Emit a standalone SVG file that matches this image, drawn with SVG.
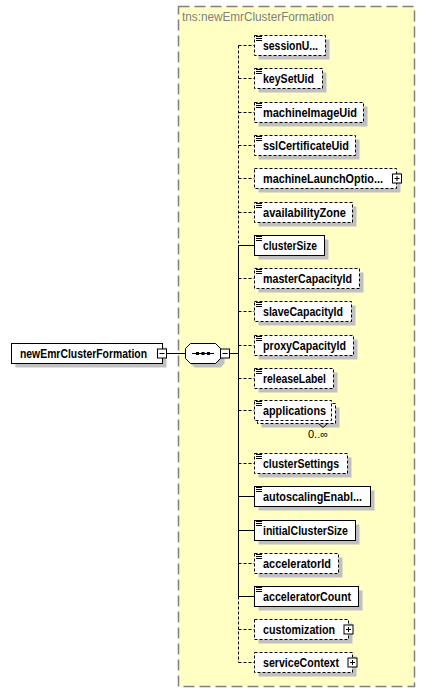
<svg xmlns="http://www.w3.org/2000/svg" width="425" height="693" viewBox="0 0 425 693">
<style>
.bg{fill:#ffffff}
.frame{fill:#ffffc4;stroke:#808080;stroke-width:1.5;stroke-dasharray:11,5}
.title{font-family:"Liberation Sans",Arial,sans-serif;font-size:12px;fill:#808080}
.sh{fill:#c0c0c0;stroke:none}
.box{fill:#ffffff;stroke:#000;stroke-width:1}
.opt{fill:#ffffff;stroke:#000;stroke-width:1;stroke-dasharray:3,2}
.lbl{font-family:"Liberation Sans",Arial,sans-serif;font-size:12px;font-weight:bold;fill:#000}
.occ{font-family:"Liberation Sans",Arial,sans-serif;font-size:11px;fill:#000}
.ln{stroke:#000;stroke-width:1;fill:none}
.dl{stroke:#000;stroke-width:1;fill:none;stroke-dasharray:3,2}
.ic{stroke:#000;stroke-width:1;fill:none}
.btn{fill:#ffffff;stroke:#000;stroke-width:1}
</style>
<defs>
<g id="doc"><path class="ic" d="M256 0.5h6M256 2.5h6M256 4.5h6"/></g>
<g id="plus"><rect class="btn" x="-4.5" y="-4.5" width="9" height="9"/><path class="ic" d="M-2.5 0h5M0 -2.5v5"/></g>
<g id="minus"><rect class="btn" x="-4.5" y="-4.5" width="9" height="9"/><path class="ic" d="M-2.5 0h5"/></g>
</defs>
<rect class="bg" x="0" y="0" width="425" height="693"/>
<g id="type">
<rect class="frame" x="178.5" y="6.5" width="236" height="680"/>
<text class="title" x="182" y="21" textLength="152" lengthAdjust="spacingAndGlyphs">tns:newEmrClusterFormation</text>
</g>
<g id="connectors">
<path class="ln" d="M167 353.5H185.5"/>
<path class="ln" d="M229.5 353.5H238.5"/>
<path class="dl" d="M238.5 45.5V245.5"/>
<path class="ln" d="M238.5 245.5V596.5"/>
<path class="dl" d="M238.5 596.5V662.5"/>
<path class="dl" d="M238.5 45.5H254.5M238.5 78.5H254.5M238.5 112.5H254.5M238.5 145.5H254.5M238.5 178.5H254.5M238.5 212.5H254.5M238.5 278.5H254.5M238.5 311.5H254.5M238.5 345.5H254.5M238.5 378.5H254.5M238.5 410.5H254.5M238.5 463.5H254.5M238.5 563.5H254.5M238.5 629.5H254.5M238.5 662.5H254.5"/>
<path class="ln" d="M238.5 245.5H254.5M238.5 496.5H254.5M238.5 530.5H254.5M238.5 596.5H254.5"/>
</g>
<g id="root">
<rect class="sh" x="15.5" y="347.5" width="151" height="20"/>
<rect class="box" x="11.5" y="343.5" width="151" height="20"/>
<text class="lbl" x="20" y="358" textLength="127" lengthAdjust="spacingAndGlyphs">newEmrClusterFormation</text>
<use href="#minus" x="162" y="353.5"/>
</g>
<g id="sequence">
<polygon class="sh" points="194.5,347.5 220.5,347.5 224.5,351.5 224.5,363.5 220.5,367.5 194.5,367.5 190.5,363.5 190.5,351.5"/>
<polygon class="box" points="190.5,343.5 215.5,343.5 220.5,348.5 220.5,358.5 215.5,363.5 190.5,363.5 185.5,358.5 185.5,348.5"/>
<path class="ln" d="M192 353.5H214"/>
<rect x="196" y="352" width="3" height="3" fill="#000"/>
<rect x="201.5" y="352" width="3" height="3" fill="#000"/>
<rect x="207" y="352" width="3" height="3" fill="#000"/>
<use href="#minus" x="225" y="353.5"/>
</g>
<g id="sessionUid">
<rect class="sh" x="258.5" y="39.5" width="71" height="20"/>
<rect class="opt" x="254.5" y="35.5" width="71" height="20"/>
<use href="#doc" y="36"/>
<text class="lbl" x="263" y="50" textLength="55" lengthAdjust="spacingAndGlyphs">sessionU...</text>
</g>
<g id="keySetUid">
<rect class="sh" x="258.5" y="72.5" width="68" height="20"/>
<rect class="opt" x="254.5" y="68.5" width="68" height="20"/>
<use href="#doc" y="69"/>
<text class="lbl" x="263" y="83" textLength="51" lengthAdjust="spacingAndGlyphs">keySetUid</text>
</g>
<g id="machineImageUid">
<rect class="sh" x="258.5" y="106.5" width="109" height="20"/>
<rect class="opt" x="254.5" y="102.5" width="109" height="20"/>
<use href="#doc" y="103"/>
<text class="lbl" x="263" y="117" textLength="94" lengthAdjust="spacingAndGlyphs">machineImageUid</text>
</g>
<g id="sslCertificateUid">
<rect class="sh" x="258.5" y="139.5" width="101" height="20"/>
<rect class="opt" x="254.5" y="135.5" width="101" height="20"/>
<use href="#doc" y="136"/>
<text class="lbl" x="263" y="150" textLength="86" lengthAdjust="spacingAndGlyphs">sslCertificateUid</text>
</g>
<g id="machineLaunchOptions">
<rect class="sh" x="258.5" y="172.5" width="142" height="20"/>
<rect class="opt" x="254.5" y="168.5" width="142" height="20"/>
<text class="lbl" x="263" y="183" textLength="120" lengthAdjust="spacingAndGlyphs">machineLaunchOptio...</text>
<use href="#plus" x="397" y="178.5"/>
</g>
<g id="availabilityZone">
<rect class="sh" x="258.5" y="206.5" width="98" height="20"/>
<rect class="opt" x="254.5" y="202.5" width="98" height="20"/>
<use href="#doc" y="203"/>
<text class="lbl" x="263" y="217" textLength="83" lengthAdjust="spacingAndGlyphs">availabilityZone</text>
</g>
<g id="clusterSize">
<rect class="sh" x="258.5" y="239.5" width="70" height="20"/>
<rect class="box" x="254.5" y="235.5" width="70" height="20"/>
<use href="#doc" y="236"/>
<text class="lbl" x="263" y="250" textLength="54" lengthAdjust="spacingAndGlyphs">clusterSize</text>
</g>
<g id="masterCapacityId">
<rect class="sh" x="258.5" y="272.5" width="105" height="20"/>
<rect class="opt" x="254.5" y="268.5" width="105" height="20"/>
<use href="#doc" y="269"/>
<text class="lbl" x="263" y="283" textLength="89" lengthAdjust="spacingAndGlyphs">masterCapacityId</text>
</g>
<g id="slaveCapacityId">
<rect class="sh" x="258.5" y="305.5" width="97" height="20"/>
<rect class="opt" x="254.5" y="301.5" width="97" height="20"/>
<use href="#doc" y="302"/>
<text class="lbl" x="263" y="316" textLength="80" lengthAdjust="spacingAndGlyphs">slaveCapacityId</text>
</g>
<g id="proxyCapacityId">
<rect class="sh" x="258.5" y="339.5" width="99" height="20"/>
<rect class="opt" x="254.5" y="335.5" width="99" height="20"/>
<use href="#doc" y="336"/>
<text class="lbl" x="263" y="350" textLength="83" lengthAdjust="spacingAndGlyphs">proxyCapacityId</text>
</g>
<g id="releaseLabel">
<rect class="sh" x="258.5" y="372.5" width="79" height="20"/>
<rect class="opt" x="254.5" y="368.5" width="79" height="20"/>
<use href="#doc" y="369"/>
<text class="lbl" x="263" y="383" textLength="63" lengthAdjust="spacingAndGlyphs">releaseLabel</text>
</g>
<g id="applications">
<rect class="sh" x="261.5" y="407.5" width="78" height="20"/>
<rect class="opt" x="257.5" y="403.5" width="78" height="20"/>
<rect class="opt" x="254.5" y="400.5" width="77" height="20"/>
<use href="#doc" y="401"/>
<text class="lbl" x="263" y="415" textLength="63" lengthAdjust="spacingAndGlyphs">applications</text>
<polyline class="ln" points="318.5,423.5 323,427.5 327.5,423.5" fill="#ffffff"/>
<text class="occ" x="308" y="438">0..∞</text>
</g>
<g id="clusterSettings">
<rect class="sh" x="258.5" y="457.5" width="93" height="20"/>
<rect class="opt" x="254.5" y="453.5" width="93" height="20"/>
<use href="#doc" y="454"/>
<text class="lbl" x="263" y="468" textLength="76" lengthAdjust="spacingAndGlyphs">clusterSettings</text>
</g>
<g id="autoscalingEnabled">
<rect class="sh" x="258.5" y="490.5" width="116" height="20"/>
<rect class="box" x="254.5" y="486.5" width="116" height="20"/>
<use href="#doc" y="487"/>
<text class="lbl" x="263" y="501" textLength="99" lengthAdjust="spacingAndGlyphs">autoscalingEnabl...</text>
</g>
<g id="initialClusterSize">
<rect class="sh" x="258.5" y="524.5" width="101" height="20"/>
<rect class="box" x="254.5" y="520.5" width="101" height="20"/>
<use href="#doc" y="521"/>
<text class="lbl" x="263" y="535" textLength="85" lengthAdjust="spacingAndGlyphs">initialClusterSize</text>
</g>
<g id="acceleratorId">
<rect class="sh" x="258.5" y="557.5" width="84" height="20"/>
<rect class="opt" x="254.5" y="553.5" width="84" height="20"/>
<use href="#doc" y="554"/>
<text class="lbl" x="263" y="568" textLength="68" lengthAdjust="spacingAndGlyphs">acceleratorId</text>
</g>
<g id="acceleratorCount">
<rect class="sh" x="258.5" y="590.5" width="104" height="20"/>
<rect class="box" x="254.5" y="586.5" width="104" height="20"/>
<use href="#doc" y="587"/>
<text class="lbl" x="263" y="601" textLength="88" lengthAdjust="spacingAndGlyphs">acceleratorCount</text>
</g>
<g id="customization">
<rect class="sh" x="258.5" y="623.5" width="94" height="20"/>
<rect class="opt" x="254.5" y="619.5" width="94" height="20"/>
<text class="lbl" x="263" y="634" textLength="72" lengthAdjust="spacingAndGlyphs">customization</text>
<use href="#plus" x="348.5" y="629.5"/>
</g>
<g id="serviceContext">
<rect class="sh" x="258.5" y="656.5" width="98" height="20"/>
<rect class="opt" x="254.5" y="652.5" width="98" height="20"/>
<text class="lbl" x="263" y="667" textLength="76" lengthAdjust="spacingAndGlyphs">serviceContext</text>
<use href="#plus" x="352.5" y="662.5"/>
</g>
</svg>
